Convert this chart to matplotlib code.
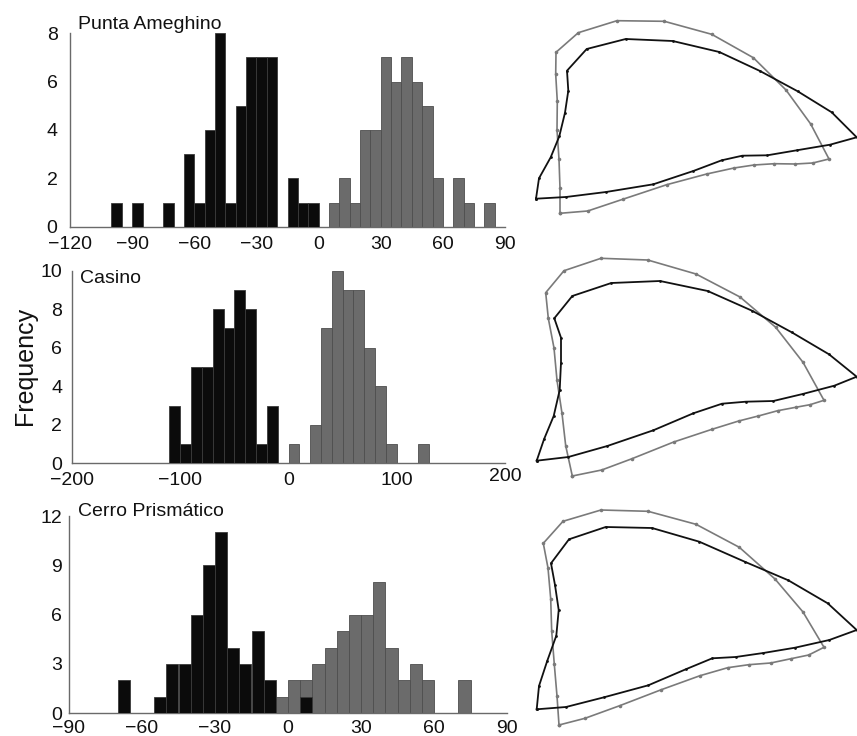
from matplotlib import pyplot as plt
import numpy as np

plt.rcParams["font.family"] = ["Liberation Sans", "DejaVu Sans"]

W, H = 857, 736

# histogram data: left edge of first bin, bin width, counts
site_names = ["Punta Ameghino", "Casino", "Cerro Prismático"]
bin_width = [5, 10, 5]
black_start = [-100, -110, -70]
black_counts = [
  [1, 0, 1, 0, 0, 1, 0, 3, 1, 4, 8, 1, 5, 7, 7, 7, 0, 2, 1, 1],
  [3, 1, 5, 5, 8, 7, 9, 8, 1, 3],
  [2, 0, 0, 1, 3, 3, 6, 9, 11, 4, 3, 5, 2, 0, 0, 1],
]
gray_start = [5, 0, -5]
gray_counts = [
  [1, 2, 1, 4, 4, 7, 6, 7, 6, 5, 2, 0, 2, 1, 0, 1],
  [1, 0, 2, 7, 10, 9, 9, 6, 4, 1, 0, 0, 1],
  [1, 2, 2, 3, 4, 5, 6, 6, 8, 4, 2, 3, 2, 0, 0, 2],
]
x_lims = [(-120, 90), (-200, 200), (-90, 90)]
x_ticks = [
  [-120, -90, -60, -30, 0, 30, 60, 90],
  [-200, -100, 0, 100, 200],
  [-90, -60, -30, 0, 30, 60, 90],
]
y_ticks = [
  [0, 2, 4, 6, 8],
  [0, 2, 4, 6, 8, 10],
  [0, 3, 6, 9, 12],
]

# outline configurations (x, y) for each site, y measured downward
black_outline = [
  [(11.0, 198.7), (14.0, 178.3), (25.7, 157.3), (34.3, 136.3), (40.0, 112.7), (43.3, 90.7),
   (42.0, 70.7), (61.7, 49.0), (100.7, 39.0), (147.7, 41.0), (194.3, 52.0), (235.0, 71.0),
   (272.7, 91.3), (306.7, 112.3), (331.7, 137.3), (305.0, 144.7), (271.7, 150.3), (242.3, 155.3),
   (217.3, 155.7), (196.7, 160.3), (168.3, 171.0), (128.3, 184.3), (81.0, 192.0), (41.0, 197.0)],
  [(11.7, 220.7), (19.0, 199.3), (28.7, 176.0), (34.7, 150.0), (36.0, 122.7), (36.0, 97.7),
   (29.3, 78.3), (47.3, 56.0), (86.3, 43.0), (135.0, 41.0), (182.7, 51.0), (227.0, 70.7),
   (266.7, 92.3), (304.0, 114.3), (331.7, 136.7), (309.3, 145.7), (277.7, 154.0), (248.3, 161.0),
   (220.7, 161.7), (197.0, 163.7), (168.3, 173.3), (128.3, 190.3), (82.3, 206.0), (43.3, 217.0)],
  [(11.7, 214.3), (14.0, 191.0), (22.3, 165.7), (31.3, 140.7), (33.7, 115.0), (30.0, 90.0),
   (26.0, 68.3), (44.0, 44.3), (80.7, 32.0), (127.0, 33.0), (174.3, 46.7), (219.7, 66.7),
   (263.3, 85.3), (302.7, 108.3), (331.7, 135.0), (304.3, 145.0), (270.0, 152.7), (238.3, 158.0),
   (210.7, 162.0), (187.3, 163.3), (160.7, 174.3), (123.3, 190.3), (79.0, 202.3), (41.0, 212.0)],
]
gray_outline = [
  [(35.0, 213.3), (35.0, 188.3), (34.0, 159.3), (32.0, 130.0), (32.3, 101.3), (30.7, 74.3),
   (31.0, 52.3), (53.3, 32.7), (92.0, 20.7), (139.3, 21.3), (186.7, 34.3), (228.3, 57.7),
   (261.0, 90.0), (285.7, 124.0), (304.0, 159.0), (287.7, 163.0), (270.3, 164.0), (249.3, 163.7),
   (229.0, 165.0), (209.0, 168.0), (181.7, 174.0), (141.7, 184.7), (97.7, 199.3), (62.7, 211.0)],
  [(47.3, 236.0), (40.7, 205.7), (37.0, 173.3), (32.0, 140.3), (29.0, 108.0), (23.3, 78.3),
   (20.7, 52.7), (39.0, 30.7), (76.0, 18.3), (122.7, 20.0), (171.0, 34.0), (215.0, 57.0),
   (250.7, 87.3), (278.0, 122.3), (299.0, 160.3), (285.0, 164.7), (270.7, 167.3), (252.7, 170.7),
   (233.3, 176.0), (213.7, 181.0), (187.0, 189.3), (148.7, 202.0), (107.0, 218.7), (76.7, 230.0)],
  [(34.0, 230.0), (32.0, 201.0), (29.3, 169.3), (26.7, 136.3), (25.7, 103.7), (23.0, 73.0),
   (18.3, 48.3), (38.0, 26.3), (76.0, 15.0), (123.0, 16.3), (171.0, 29.3), (214.3, 52.3),
   (250.0, 84.0), (278.0, 117.0), (299.0, 152.3), (283.7, 160.0), (266.0, 163.7), (245.7, 168.0),
   (223.7, 169.7), (202.7, 172.7), (175.0, 180.7), (136.3, 194.7), (94.7, 210.7), (60.0, 223.3)],
]

# layout in pixels: (left, top, right, bottom)
hist_boxes = [(70, 33.3, 505, 226.7), (72, 270.7, 505, 463.3), (69, 516, 507, 713.3)]
shape_boxes = [(525, 0, 857, 225), (525, 240, 857, 485), (525, 495, 857, 736)]
title_pos = [(78, 29.3), (80, 283.3), (77.7, 516.5)]
ytick_pad = [9.0, 7.0, 5.0]
xtick_pad = [7, 6.5, 4.5]

BLACK = "#0b0b0b"
GRAY = "#6b6b6b"


def px_rect(box):
  l, t, r, b = box
  return [l / W, 1 - b / H, (r - l) / W, (b - t) / H]


fig = plt.figure(figsize=(W / 100, H / 100), dpi=100)

for i in range(3):
  ax = fig.add_axes(px_rect(hist_boxes[i]))
  w = bin_width[i]
  g = np.array(gray_counts[i])
  gx = gray_start[i] + w * np.arange(len(g))
  ax.bar(gx[g > 0], g[g > 0], width=w, align="edge", color=GRAY, edgecolor="#4e4e4e", linewidth=0.6, zorder=2)
  b = np.array(black_counts[i])
  bx = black_start[i] + w * np.arange(len(b))
  ax.bar(bx[b > 0], b[b > 0], width=w, align="edge", color=BLACK, edgecolor="#3a3a3a", linewidth=0.6, zorder=3)

  ax.set_xlim(*x_lims[i])
  ax.set_ylim(0, y_ticks[i][-1])
  ax.set_xticks(x_ticks[i])
  ax.set_yticks(y_ticks[i])
  ax.tick_params(axis="both", length=0, labelsize=14, colors="#111111")
  ax.tick_params(axis="y", pad=ytick_pad[i])
  ax.tick_params(axis="x", pad=xtick_pad[i])
  for s in ["top", "right"]:
    ax.spines[s].set_visible(False)
  for s in ["left", "bottom"]:
    ax.spines[s].set_color("#6a6a6a")
    ax.spines[s].set_linewidth(1.0)
  if i == 1:
    # the last label sits a little higher in the original
    ax.get_xticklabels()[-1].set_y(0.02)

  fig.text(title_pos[i][0] / W, 1 - title_pos[i][1] / H, site_names[i],
           fontsize=14, va="baseline", ha="left", color="#111111")

  # outlines
  sax = fig.add_axes(px_rect(shape_boxes[i]))
  l, t, r, bt = shape_boxes[i]
  sax.set_xlim(0, r - l)
  sax.set_ylim(bt - t, 0)
  sax.axis("off")
  gp = np.array(gray_outline[i] + gray_outline[i][:1])
  sax.plot(gp[:, 0], gp[:, 1], color="#7a7a7a", linewidth=1.2, marker="o", markersize=2.6,
           markerfacecolor="#7a7a7a", markeredgewidth=0, clip_on=False)
  kp = np.array(black_outline[i] + black_outline[i][:1])
  sax.plot(kp[:, 0], kp[:, 1], color="#111111", linewidth=1.3, marker="o", markersize=2.0,
           markerfacecolor="#111111", markeredgewidth=0, clip_on=False)

fig.text(25 / W, 1 - 366 / H, "Frequency", rotation=90, fontsize=18, ha="center", va="center", color="#111111")

plt.savefig("out.png", dpi=100)
plt.close()
